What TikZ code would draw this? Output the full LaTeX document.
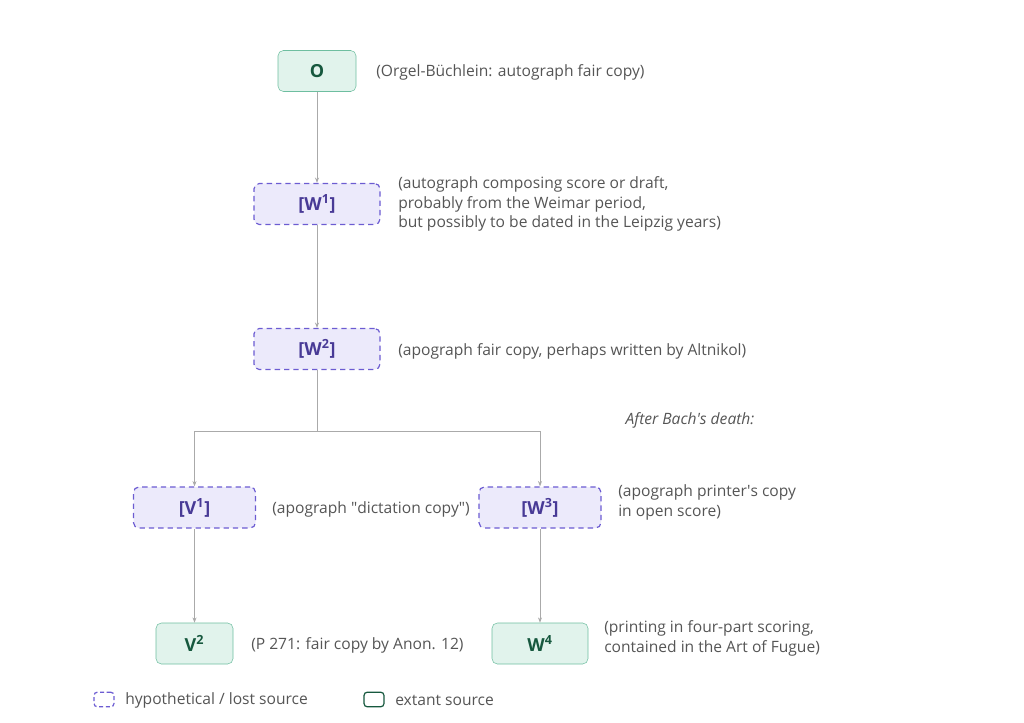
\documentclass[tikz,border=0pt]{standalone}
\usepackage{fontspec}
\setmainfont{Open Sans}
\usepackage{xcolor}
\usetikzlibrary{arrows.meta}

\definecolor{extantfill}{RGB}{225,243,236}
\definecolor{extantdraw}{RGB}{110,190,160}
\definecolor{extanttext}{RGB}{22,88,62}
\definecolor{lostfill}{RGB}{236,234,251}
\definecolor{lostdraw}{RGB}{108,92,210}
\definecolor{losttext}{RGB}{72,58,150}
\definecolor{notegray}{RGB}{85,85,85}
\definecolor{linegray}{RGB}{170,170,170}

\tikzset{
  extant/.style={draw=extantdraw, fill=extantfill, text=extanttext, rounded corners=4pt,
    minimum height=30.75pt, inner sep=0pt, font=\fontsize{13.5}{16}\selectfont\bfseries},
  lost/.style={draw=lostdraw, fill=lostfill, text=losttext, rounded corners=4pt, line width=0.9pt,
    dash pattern=on 4pt off 3pt, minimum height=30.75pt, inner sep=0pt, font=\fontsize{13.5}{16}\selectfont\bfseries},
  note/.style={anchor=west, align=left, text=notegray, inner sep=0pt, font=\fontsize{11.7}{14.6}\selectfont},
  conn/.style={draw=linegray, line width=0.6pt, -{Stealth[length=4pt,width=3pt]}},
  trunk/.style={draw=linegray, line width=0.6pt},
}

\begin{document}
\begin{tikzpicture}[x=0.75pt,y=0.75pt,yscale=-1,xscale=1]
\useasboundingbox (0,0) rectangle (1024,723);

%Shape: Rectangle [O]
\node [extant, minimum width=58.5pt] (O) at (317,71) {O};
%Shape: Rectangle [W1]
\node [lost, minimum width=94.5pt] (W1) at (317,204) {[W\textsuperscript{1}]};
%Shape: Rectangle [W2]
\node [lost, minimum width=94.5pt] (W2) at (317,349) {[W\textsuperscript{2}]};
%Shape: Rectangle [V1]
\node [lost, minimum width=91.5pt] (V1) at (194.5,507.5) {[V\textsuperscript{1}]};
%Shape: Rectangle [W3]
\node [lost, minimum width=91.5pt] (W3) at (540,507.5) {[W\textsuperscript{3}]};
%Shape: Rectangle [V2]
\node [extant, minimum width=57.75pt] (V2) at (194.5,643.5) {V\textsuperscript{2}};
%Shape: Rectangle [W4]
\node [extant, minimum width=72pt] (W4) at (540,643.5) {W\textsuperscript{4}};

%Straight Lines
\draw [conn] (O) -- (W1);
\draw [conn] (W1) -- (W2);
\coordinate (split) at (317,431);
\draw [trunk] (W2) -- (split);
\draw [conn] (split) -| (V1);
\draw [conn] (split) -| (W3);
\draw [conn] (V1) -- (V2);
\draw [conn] (W3) -- (W4);

% Text Node
\node [note] (oNote) at (376,72) {(Orgel-Büchlein: autograph fair copy)};
% Text Node
\node [note] (w1Note) at (398,204) {(autograph composing score or draft,\\probably from the Weimar period,\\but possibly to be dated in the Leipzig years)};
% Text Node
\node [note] (w2Note) at (398,351) {(apograph fair copy, perhaps written by Altnikol)};
% Text Node
\node [note, anchor=center, font=\fontsize{11.7}{14.6}\selectfont\itshape] (death) at (690,420) {After Bach\textquotesingle s death:};
% Text Node
\node [note] (v1Note) at (272,509) {(apograph \textquotedbl dictation copy\textquotedbl)};
% Text Node
\node [note] (w3Note) at (618,502.5) {(apograph printer\textquotesingle s copy\\in open score)};
% Text Node
\node [note] (v2Note) at (251,645) {(P 271: fair copy by Anon. 12)};
% Text Node
\node [note] (w4Note) at (604,638.5) {(printing in four-part scoring,\\contained in the Art of Fugue)};

%Legend
\node [draw=lostdraw, line width=0.9pt, dash pattern=on 3pt off 2pt, rounded corners=2.5pt,
  minimum width=15pt, minimum height=11pt, inner sep=0pt] (keyLost) at (104,699.5) {};
\node [note] (keyLostText) at (125,700) {hypothetical / lost source};
\node [draw=extanttext, line width=0.9pt, rounded corners=2.5pt,
  minimum width=15pt, minimum height=11pt, inner sep=0pt] (keyExtant) at (374,699.5) {};
\node [note] (keyExtantText) at (395,700) {extant source};

\end{tikzpicture}
\end{document}
